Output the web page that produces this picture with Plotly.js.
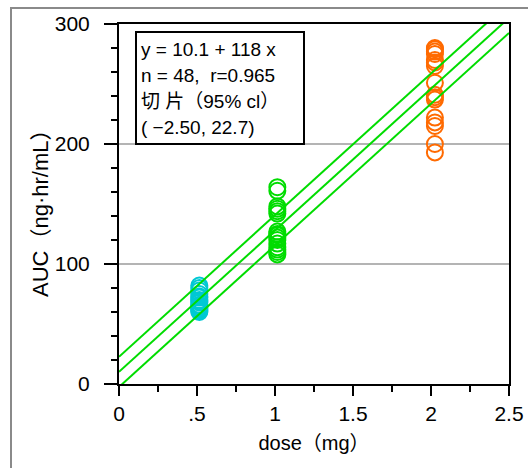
<!DOCTYPE html>
<html>
<head>
<meta charset="utf-8">
<script src="https://cdn.plot.ly/plotly-3.0.1.min.js"></script>
<style>
html,body{margin:0;padding:0;background:#fff;}
#chart{width:528px;height:468px;}
</style>
</head>
<body>
<div id="chart"></div>
<script>
// ---- data ----
const doses = [0.515, 1.015, 2.025];
const auc05 = [82, 80, 78, 75, 73, 72, 70, 69, 68, 66, 65, 64, 63, 62, 61, 60];
const auc10 = [164, 161, 148, 146, 144, 142, 127, 125, 124, 122, 120, 117, 114, 112, 110, 108];
const auc20 = [280, 279, 277, 275, 270, 268, 265, 251, 241, 239, 237, 222, 218, 215, 200, 193];
const groupColors = ['#00c8d4', '#00dc00', '#ff6a00'];
const fitSlope = 118;
const fitIntercepts = [-2.5, 10.1, 22.7];
const fitRange = [0, 2.5];
const xTickVals = [0, 0.5, 1, 1.5, 2, 2.5];
const xTickText = ['0', '.5', '1', '1.5', '2', '2.5'];
const yTickVals = [0, 100, 200, 300];
const statLines = ['y = 10.1 + 118 x', 'n = 48,\u00a0\u00a0r=0.965', '切 片（95% cl）', '( \u22122.50, 22.7)'];

const FONT = 'Liberation Sans, Arial, Noto Sans CJK JP, sans-serif';
const W = 528, H = 468, L = 119, R = 19, T = 24, B = 84;
const pw = W - L - R, ph = H - T - B;
const px = x => (x - L) / pw;
const py = y => (H - B - y) / ph;

const groups = [auc05, auc10, auc20];
const traces = groups.map((g, i) => ({
  type: 'scatter', mode: 'markers',
  x: g.map(() => doses[i]), y: g,
  marker: {symbol: 'circle-open', size: 16, color: groupColors[i], line: {width: 2, color: groupColors[i]}},
  hoverinfo: 'x+y', showlegend: false
}));
fitIntercepts.forEach(b => {
  traces.push({
    type: 'scatter', mode: 'lines',
    x: fitRange, y: fitRange.map(x => b + fitSlope * x),
    line: {color: '#00dc00', width: 2}, showlegend: false, hoverinfo: 'skip'
  });
});

const lineY = [50, 75, 101, 127];
const annotations = statLines.map((t, i) => ({
  xref: 'paper', yref: 'paper', x: px(139), y: py(lineY[i]),
  xanchor: 'left', yanchor: 'middle', showarrow: false, text: t,
  font: {family: FONT, size: 19, color: '#000'}
}));
annotations.push({
  xref: 'paper', yref: 'paper', x: px(40), y: py(208), textangle: -90,
  xanchor: 'center', yanchor: 'middle', showarrow: false,
  text: 'AUC（ng·hr/mL）', font: {family: FONT, size: 22, color: '#000'}
});

const layout = {
  width: W, height: H,
  margin: {l: L, r: R, t: T, b: B, pad: 0},
  paper_bgcolor: '#fff', plot_bgcolor: '#fff',
  font: {family: FONT, color: '#000'},
  showlegend: false,
  xaxis: {
    range: [0, 2.5], tickmode: 'array', tickvals: xTickVals, ticktext: xTickText,
    ticks: 'outside', ticklen: 10, tickwidth: 2, tickcolor: '#000',
    minor: {dtick: 0.25, tick0: 0, ticks: 'outside', ticklen: 6, tickwidth: 2, tickcolor: '#000'},
    showline: true, linecolor: '#000', linewidth: 2, mirror: true,
    showgrid: false, zeroline: false,
    tickfont: {family: FONT, size: 21, color: '#000'},
    title: {text: 'dose（mg）', font: {family: FONT, size: 20, color: '#000'}, standoff: 12}
  },
  yaxis: {
    range: [0, 300], tickmode: 'array', tickvals: yTickVals,
    ticks: 'outside', ticklen: 13, tickwidth: 2, tickcolor: '#000',
    minor: {dtick: 20, tick0: 0, ticks: 'outside', ticklen: 6, tickwidth: 2, tickcolor: '#000', showgrid: false},
    showline: true, linecolor: '#000', linewidth: 2, mirror: true,
    showgrid: true, gridcolor: '#b4b4b4', gridwidth: 2, zeroline: false,
    tickfont: {family: FONT, size: 21, color: '#000'},
    ticklabelstandoff: 10
  },
  shapes: [
    {type: 'rect', xref: 'paper', yref: 'paper', x0: px(11), y0: py(490), x1: px(560), y1: py(8),
     line: {color: '#8a8a8a', width: 2}, fillcolor: 'rgba(0,0,0,0)', layer: 'above'},
    {type: 'rect', xref: 'paper', yref: 'paper', x0: px(136), y0: py(144), x1: px(304), y1: py(32),
     line: {color: '#000', width: 2}, fillcolor: '#fff', layer: 'above'}
  ],
  annotations: annotations
};

Plotly.newPlot('chart', traces, layout, {staticPlot: true, displayModeBar: false});
</script>
</body>
</html>
